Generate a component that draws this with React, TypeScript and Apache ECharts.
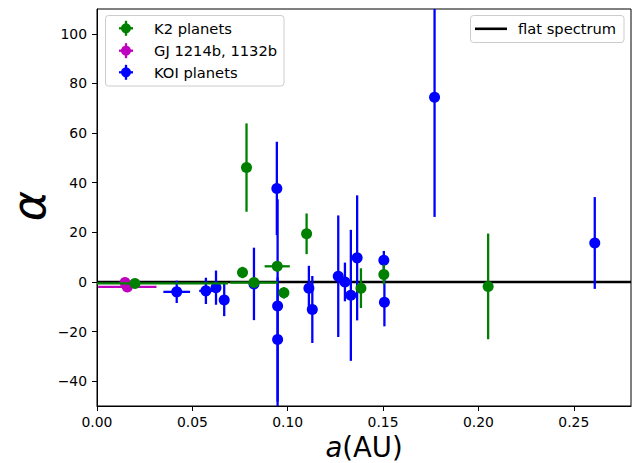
import React, { useEffect, useRef } from "react";
import * as echarts from "echarts";

// K2 planets
const k2A = [0.0199, 0.0763, 0.0784, 0.0823, 0.0945, 0.098, 0.1099, 0.1384, 0.1504, 0.2051];
const k2Alpha = [-0.6, 3.8, 46.1, -0.25, 6.3, -4.4, 19.4, -2.5, 3.0, -1.8];
const k2AlphaErr = [1, 2.3, 17.8, 1, 2, 2.3, 8.2, 8, 4, 21.3];
const k2AErr = [0.0488, 0, 0, 0.0125, 0.0066, 0, 0, 0, 0, 0];

// GJ 1214b, 1132b
const gjA = [0.0147, 0.0159];
const gjAlpha = [-0.25, -2.0];
const gjAlphaErr = [1, 1];
const gjAErr = [0, 0.0153];

// KOI planets
const koiA = [0.0418, 0.0571, 0.0624, 0.0667, 0.0823, 0.0943, 0.0947, 0.0947, 0.1111, 0.1129, 0.1265, 0.13, 0.1331, 0.1364, 0.1504, 0.1507, 0.177, 0.261];
const koiAlpha = [-4.0, -3.6, -2.3, -7.3, -0.8, 37.7, -9.7, -23.2, -2.5, -11.1, 2.3, 0.0, -5.4, 9.7, 8.7, -8.2, 74.4, 15.7];
const koiAlphaErr = [4.5, 5.3, 6.9, 6.5, 14.6, 18.8, 43, 25, 9, 13.5, 24.5, 7.8, 26.4, 25.2, 3.8, 9.7, 48.2, 18.5];
const koiAErr = [0.007, 0.0035, 0, 0, 0, 0, 0, 0, 0, 0, 0, 0, 0, 0, 0, 0, 0, 0];

// flat spectrum
const flatA = [0, 0.28];
const flatAlpha = [0, 0];

const xTicks = [0, 0.05, 0.1, 0.15, 0.2, 0.25];
const yTicks = [-40, -20, 0, 20, 40, 60, 80, 100];

const GREEN = "#008000";
const MAGENTA = "#bf00bf";
const BLUE = "#0000ff";
const FONT = "DejaVu Sans";
const ERR_W = 2.3;
const LEG_FONT = `14.7px "${FONT}"`;

function errData(a: number[], al: number[], ye: number[], xe: number[]) {
  return a.map((v, i) => [v, al[i], ye[i], xe[i]]);
}

function renderErr(color: string) {
  return (params: any, api: any) => {
    const cs = params.coordSys;
    const x = api.value(0);
    const y = api.value(1);
    const ye = api.value(2);
    const xe = api.value(3);
    const p0 = api.coord([x, y]);
    const top = api.coord([x, y + ye]);
    const bot = api.coord([x, y - ye]);
    const l = api.coord([x - xe, y]);
    const r = api.coord([x + xe, y]);
    const cy = (v: number) => Math.max(cs.y, Math.min(cs.y + cs.height, v));
    const cx = (v: number) => Math.max(cs.x, Math.min(cs.x + cs.width, v));
    const children: any[] = [];
    if (ye > 0)
      children.push({
        type: "line",
        shape: { x1: p0[0], y1: cy(top[1]), x2: p0[0], y2: cy(bot[1]) },
        style: { stroke: color, lineWidth: ERR_W },
      });
    if (xe > 0)
      children.push({
        type: "line",
        shape: { x1: cx(l[0]), y1: p0[1], x2: cx(r[0]), y2: p0[1] },
        style: { stroke: color, lineWidth: ERR_W },
      });
    return { type: "group", children };
  };
}

function legendMarker(cx: number, cy: number, color: string) {
  return [
    { type: "line", shape: { x1: cx - 7, y1: cy, x2: cx + 7, y2: cy }, style: { stroke: color, lineWidth: ERR_W } },
    { type: "line", shape: { x1: cx, y1: cy - 7.5, x2: cx, y2: cy + 7.5 }, style: { stroke: color, lineWidth: ERR_W } },
    { type: "circle", shape: { cx, cy, r: 5 }, style: { fill: color } },
  ];
}

export default function App() {
  const ref = useRef<HTMLDivElement>(null);
  useEffect(() => {
    document.body.style.margin = "0";
    const chart = echarts.init(ref.current!, null, { renderer: "svg" });
    const legendRows = [
      { label: "K2 planets", color: GREEN, y: 28.3 },
      { label: "GJ 1214b, 1132b", color: MAGENTA, y: 50.7 },
      { label: "KOI planets", color: BLUE, y: 72.3 },
    ];
    const graphic: any[] = [
      {
        type: "rect",
        shape: { x: 105.5, y: 15.5, width: 178.5, height: 70.5, r: 3 },
        style: { fill: "rgba(255,255,255,0.8)", stroke: "#cccccc", lineWidth: 1 },
        z: 100,
      },
      ...legendRows.flatMap((row) => [
        ...legendMarker(126, row.y, row.color).map((e) => ({ ...e, z: 101 })),
        {
          type: "text",
          x: 154,
          y: row.y,
          style: { text: row.label, fill: "#000", font: LEG_FONT, verticalAlign: "middle", align: "left" },
          z: 101,
        },
      ]),
      {
        type: "rect",
        shape: { x: 470.5, y: 15.5, width: 153.5, height: 27, r: 3 },
        style: { fill: "rgba(255,255,255,0.8)", stroke: "#cccccc", lineWidth: 1 },
        z: 100,
      },
      { type: "line", shape: { x1: 475, y1: 28.8, x2: 507, y2: 28.8 }, style: { stroke: "#000", lineWidth: 2.6 }, z: 101 },
      {
        type: "text",
        x: 518,
        y: 28.8,
        style: { text: "flat spectrum", fill: "#000", font: LEG_FONT, verticalAlign: "middle", align: "left" },
        z: 101,
      },
      {
        type: "text",
        x: 364,
        y: 447,
        style: {
          text: "{i|a}(AU)",
          fill: "#000",
          font: `27.5px "${FONT}"`,
          align: "center",
          verticalAlign: "middle",
          rich: { i: { fontStyle: "italic", fontSize: 27.5, fontFamily: FONT } },
        },
      },
      {
        type: "text",
        x: 29,
        y: 206,
        rotation: Math.PI / 2,
        style: {
          text: "α",
          fill: "#000",
          font: `italic 46px "${FONT}"`,
          align: "center",
          verticalAlign: "middle",
        },
      },
    ];
    const axisCommon = {
      axisLine: { show: true, onZero: false, lineStyle: { color: "#000", width: 1 } },
      axisTick: { show: true, inside: false, length: 5, lineStyle: { color: "#000", width: 1 } },
      splitLine: { show: false },
    };
    chart.setOption({
      animation: false,
      backgroundColor: "#fff",
      grid: { left: 97, right: 13, top: 9, bottom: 57, show: true, borderColor: "#000", borderWidth: 1 },
      xAxis: {
        type: "value",
        min: 0,
        max: 0.28,
        ...axisCommon,
        axisTick: { ...axisCommon.axisTick, customValues: xTicks },
        axisLabel: {
          customValues: xTicks,
          formatter: (v: number) => v.toFixed(2),
          color: "#000",
          fontFamily: FONT,
          fontSize: 13.9,
          margin: 9,
        },
      },
      yAxis: {
        type: "value",
        min: -50,
        max: 110,
        ...axisCommon,
        axisTick: { ...axisCommon.axisTick, customValues: yTicks },
        axisLabel: {
          customValues: yTicks,
          formatter: (v: number) => (v < 0 ? "\u2212" + Math.abs(v) : String(v)),
          color: "#000",
          fontFamily: FONT,
          fontSize: 13.9,
          margin: 10,
        },
      },
      graphic,
      series: [
        {
          name: "flat spectrum",
          type: "line",
          data: flatA.map((v, i) => [v, flatAlpha[i]]),
          symbol: "none",
          lineStyle: { color: "#000", width: 2.6 },
          z: 1,
          silent: true,
        },
        {
          name: "KOI err",
          type: "custom",
          renderItem: renderErr(BLUE),
          data: errData(koiA, koiAlpha, koiAlphaErr, koiAErr),
          encode: { x: 0, y: 1 },
          z: 2,
        },
        {
          name: "KOI planets",
          type: "scatter",
          data: koiA.map((v, i) => [v, koiAlpha[i]]),
          symbolSize: 11,
          itemStyle: { color: BLUE, opacity: 1 },
          z: 3,
        },
        {
          name: "GJ err",
          type: "custom",
          renderItem: renderErr(MAGENTA),
          data: errData(gjA, gjAlpha, gjAlphaErr, gjAErr),
          encode: { x: 0, y: 1 },
          z: 4,
        },
        {
          name: "GJ 1214b, 1132b",
          type: "scatter",
          data: gjA.map((v, i) => [v, gjAlpha[i]]),
          symbolSize: 11,
          itemStyle: { color: MAGENTA, opacity: 1 },
          z: 5,
        },
        {
          name: "K2 err",
          type: "custom",
          renderItem: renderErr(GREEN),
          data: errData(k2A, k2Alpha, k2AlphaErr, k2AErr),
          encode: { x: 0, y: 1 },
          z: 6,
        },
        {
          name: "K2 planets",
          type: "scatter",
          data: k2A.map((v, i) => [v, k2Alpha[i]]),
          symbolSize: 11,
          itemStyle: { color: GREEN, opacity: 1 },
          z: 7,
        },
      ],
    });
    return () => chart.dispose();
  }, []);
  return <div ref={ref} style={{ position: "fixed", left: 0, top: 0, width: 644, height: 463 }} />;
}
